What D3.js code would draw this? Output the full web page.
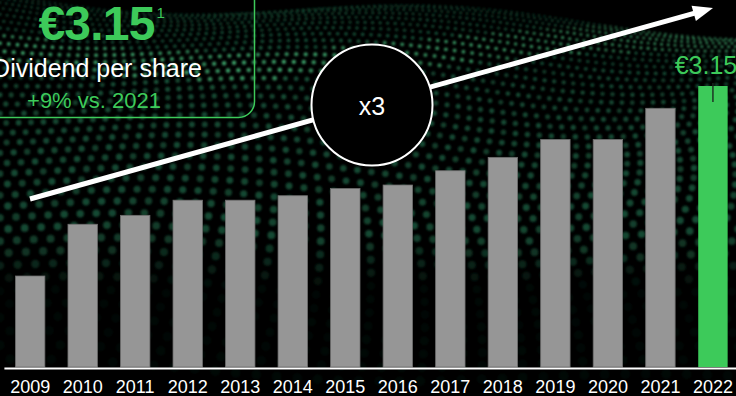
<!DOCTYPE html>
<html>
<head>
<meta charset="utf-8">
<script src="https://cdn.jsdelivr.net/npm/d3@7"></script>
<style>
  html, body { margin: 0; padding: 0; background: #000; }
  svg { display: block; font-family: "Liberation Sans", Arial, sans-serif; }
</style>
</head>
<body>
<svg id="chart" width="736" height="396"></svg>
<script>
// Dividend per share, EUR
const years = ["2009","2010","2011","2012","2013","2014","2015","2016","2017","2018","2019","2020","2021","2022"];
const dividends = [1.02, 1.60, 1.70, 1.87, 1.87, 1.92, 2.00, 2.04, 2.20, 2.35, 2.55, 2.55, 2.90, 3.15];
const highlightYear = "2022";
const headline = "€3.15";
const headlineNote = "1";
const subtitle = "Dividend per share";
const growthText = "+9% vs. 2021";
const multipleText = "x3";

const W = 736, H = 396;
const GREEN = "#3dca5a";
const svg = d3.select("#chart");

svg.append("rect").attr("width", W).attr("height", H).attr("fill", "#000");

// --- halftone dot landscape in the background ---
const defs = svg.append("defs");
defs.append("filter").attr("id", "soft")
  .attr("x", "-5%").attr("y", "-5%").attr("width", "110%").attr("height", "110%")
  .append("feGaussianBlur").attr("stdDeviation", 0.8);

const dotField = [];
const rows = 38;
for (let j = 0; j < rows; j++) {
  const t = j / (rows - 1);
  const yb = 2 + 370 * Math.pow(t, 1.45);
  const sp = 5.5 + 15 * t;
  const r = 1.1 + 3.8 * t;
  for (let x = (j % 2) * sp / 2; x < W + sp; x += sp) {
    const wave = (12 - 6 * t) * Math.sin(x / 95 + t * 4.2) + 8 * Math.sin(x / 230 - 1.2);
    const y = yb + wave + (x / W) * 18 * (1 - t);
    const crest = 40 + 20 * Math.sin(x / 160 + 0.4) + (x / W) * 20;
    const band = Math.exp(-Math.pow((y - crest) / 16, 2));
    let a = 0.75 + 0.25 * band;
    if (y > 235) a *= Math.max(0.12, 1 - (y - 235) / 60);
    const shade = 0.5 + 0.5 * Math.abs(Math.sin(x * 0.37 + j * 1.7));
    dotField.push({ x, y, r, a: a * (0.6 + 0.4 * shade), bright: band > 0.45 });
  }
}
svg.append("g").attr("filter", "url(#soft)")
  .selectAll("circle").data(dotField).join("circle")
  .attr("cx", d => d.x).attr("cy", d => d.y).attr("r", d => d.r)
  .attr("fill", d => d.bright ? "#3a9c66" : "#1d6244")
  .attr("fill-opacity", d => d.a);

// --- scales ---
const x = d3.scaleBand().domain(years).range([3.9, 739.2])
  .paddingInner(0.44).paddingOuter(0.22);
const y = d3.scaleLinear().domain([0, 3.15]).range([367, 86]);

// --- bars ---
svg.append("g").selectAll("rect")
  .data(years.map((yr, i) => ({ yr, v: dividends[i] })))
  .join("rect")
  .attr("x", d => x(d.yr))
  .attr("y", d => y(d.v))
  .attr("width", x.bandwidth())
  .attr("height", d => y(0) - y(d.v))
  .attr("fill", d => d.yr === highlightYear ? GREEN : "#969696")
  .attr("stroke", d => d.yr === highlightYear ? "none" : "#6f6f6f")
  .attr("stroke-width", 0.8);

// value label on the highlighted bar
const hv = dividends[years.indexOf(highlightYear)];
const hx = x(highlightYear) + x.bandwidth() / 2;
svg.append("text")
  .attr("x", hx - 7).attr("y", y(hv) - 12)
  .attr("text-anchor", "middle")
  .attr("font-size", 25).attr("fill", GREEN)
  .text("€" + hv.toFixed(2));
svg.append("line")
  .attr("x1", hx).attr("x2", hx)
  .attr("y1", y(hv) - 3).attr("y2", y(hv) + 16)
  .attr("stroke", "#1b2a20").attr("stroke-width", 1.4);

// --- x axis ---
const axis = svg.append("g").attr("transform", "translate(0,368)")
  .call(d3.axisBottom(x).tickSize(0).tickSizeOuter(0));
axis.select(".domain").attr("stroke", "#fff").attr("stroke-width", 2.2);
axis.selectAll("text")
  .attr("y", 24.5).attr("dy", null)
  .attr("fill", "#fff").attr("font-size", 18)
  .attr("font-family", "Liberation Sans, Arial, sans-serif");

// --- growth arrow ---
const a0 = [30, 199], a1 = [713, 8];
const ang = Math.atan2(a1[1] - a0[1], a1[0] - a0[0]);
const headLen = 20, headHalf = 8;
const back = [a1[0] - headLen * Math.cos(ang), a1[1] - headLen * Math.sin(ang)];
svg.append("line")
  .attr("x1", a0[0]).attr("y1", a0[1])
  .attr("x2", back[0] + 2 * Math.cos(ang)).attr("y2", back[1] + 2 * Math.sin(ang))
  .attr("stroke", "#fff").attr("stroke-width", 5);
const nx = -Math.sin(ang), ny = Math.cos(ang);
svg.append("path")
  .attr("d", d3.line()([
    a1,
    [back[0] + nx * headHalf, back[1] + ny * headHalf],
    [back[0] - nx * headHalf, back[1] - ny * headHalf]
  ]) + "Z")
  .attr("fill", "#fff");

// --- multiple badge ---
svg.append("circle").attr("cx", 372).attr("cy", 105).attr("r", 60.5)
  .attr("fill", "#000").attr("stroke", "#fff").attr("stroke-width", 2);
svg.append("text").attr("x", 372).attr("y", 115)
  .attr("text-anchor", "middle").attr("font-size", 25).attr("fill", "#fff")
  .text(multipleText);

// --- headline box ---
svg.append("rect")
  .attr("x", -20).attr("y", -20).attr("width", 274.5).attr("height", 137.5)
  .attr("rx", 16).attr("ry", 16)
  .attr("fill", "none").attr("stroke", GREEN).attr("stroke-width", 1.5);
svg.append("text").attr("x", 96.5).attr("y", 40)
  .attr("text-anchor", "middle").attr("font-size", 48).attr("font-weight", "bold")
  .attr("fill", GREEN).attr("letter-spacing", -0.8)
  .text(headline);
svg.append("text").attr("x", 156.5).attr("y", 18)
  .attr("font-size", 15).attr("fill", GREEN)
  .text(headlineNote);
svg.append("text").attr("x", 97).attr("y", 77)
  .attr("text-anchor", "middle").attr("font-size", 25).attr("fill", "#fff")
  .text(subtitle);
svg.append("text").attr("x", 94).attr("y", 108)
  .attr("text-anchor", "middle").attr("font-size", 22).attr("fill", GREEN)
  .text(growthText);
</script>
</body>
</html>
